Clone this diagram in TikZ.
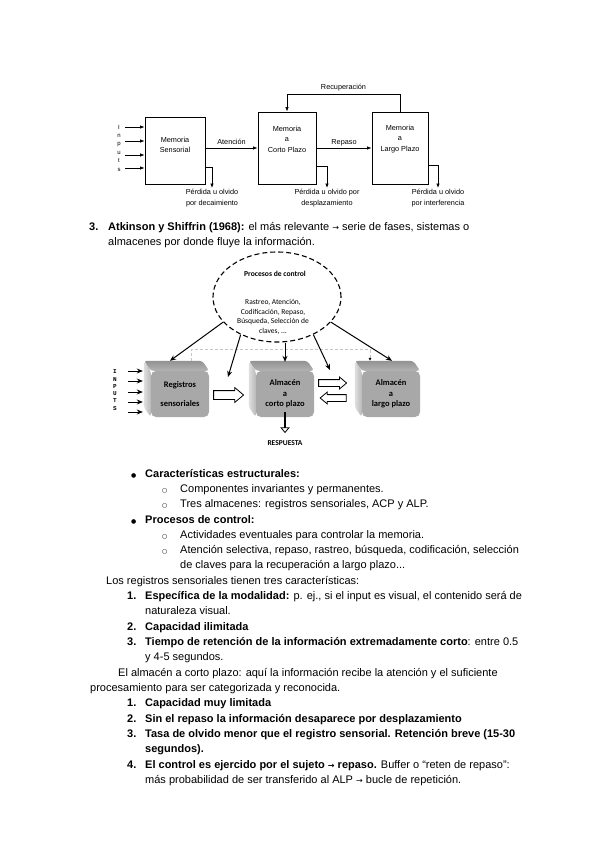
\documentclass[tikz,border=0pt]{standalone}
\usepackage{fontspec}
\setmainfont{Liberation Sans}
\newfontfamily\calfont{Carlito}
\newfontfamily\symfont{DejaVu Sans}
\newfontfamily\inpfont{Liberation Mono}
\usetikzlibrary{arrows,arrows.meta,calc,shapes.geometric,shapes.arrows,backgrounds,positioning}

\newcommand{\arr}{{\symfont\fontsize{8}{10}\selectfont →}}
\newcommand{\bul}{{\symfont\fontsize{6}{8}\selectfont ●}}
\newcommand{\cir}{{\symfont\fontsize{6}{8}\selectfont ○}}

\begin{document}
\begin{tikzpicture}[x=1pt,y=-1pt,
    txt/.style={anchor=base west,inner sep=0pt,font=\fontsize{11}{13}\selectfont},
    blk/.style={draw,line width=0.9pt,minimum width=58,minimum height=72,inner sep=0pt},
    lbl/.style={align=center,inner sep=1pt,font=\fontsize{7.3}{10.5}\selectfont},
    flow/.style={line width=0.7pt,-{Latex[length=4.5pt,width=3.5pt]}},
    store/.style={fill=gray!68,rounded corners=5pt,minimum width=58,minimum height=46,
        inner sep=0pt,align=center,font=\calfont\bfseries\fontsize{8.5}{10.5}\selectfont},
    ctrl/.style={line width=1pt,-{Stealth[length=6pt,width=5pt]}},
    hollow/.style={single arrow,draw,fill=white,line width=0.8pt,inner xsep=0pt,inner ysep=3pt,
        single arrow head extend=2.5pt,single arrow tip angle=80},
  ]
\begin{scope}[on background layer]
  \fill[white] (0,0) rectangle (600,848);
\end{scope}
\useasboundingbox (0,0) rectangle (600,848);

% memory model, boxes
\node[blk,minimum width=60,minimum height=67] (ms) at (175,150.5) {};
\node[blk] (mcp) at (287,148) {};
\node[blk,minimum width=56] (mlp) at (400,148) {};
\node[lbl] (mst) at (175,145) {Memoria\\Sensorial};
\node[lbl] (mcpt) at (287,139) {Memoria\\a\\Corto Plazo};
\node[lbl] (mlpt) at (400,139) {Memoria\\a\\Largo Plazo};

% inputs
\node[lbl,font=\fontsize{6}{8.4}\selectfont] (inp) at (119,148) {I\\n\\p\\u\\t\\s};
\foreach \y [count=\i] in {127,141,155,168}
  \coordinate (in\i) at (125,\y);
\foreach \i in {1,...,4}
  \draw[flow] (in\i) -- (in\i -| ms.west);

\draw[flow] (ms.east |- mcp.west) -- (mcp.west) node[midway,above=2pt,lbl] {Atención};
\draw[flow] (mcp.east) -- (mlp.west) node[midway,above=1pt,lbl] {Repaso};
\draw[flow] (mlp.north) -- ++(0,-17) -| (mcp.north) node[pos=0.25,above=2pt,lbl] {Recuperación};

% losses
\node[lbl,anchor=north] (dec) at (212,188) {Pérdida u olvido\\por decaimiento};
\node[lbl,anchor=north] (des) at (327,188) {Pérdida u olvido por\\desplazamiento};
\node[lbl,anchor=north] (itf) at (438,188) {Pérdida u olvido\\por interferencia};
\draw[flow] ([yshift=17pt]ms.south east) -| (dec.north);
\draw[flow] ([yshift=18pt]mcp.south east) -| (des.north);
\draw[flow] ([yshift=19pt]mlp.south east) -| (itf.north);

% heading
\node[txt] (n3) at (89,230) {\bfseries 3.};
\node[txt] (h1) at (108,230) {\textbf{Atkinson y Shiffrin (1968):} el más relevante \arr{} serie de fases, sistemas o};
\node[txt] (h2) at (108,245) {almacenes por donde fluye la información.};

% Atkinson-Shiffrin
\node[ellipse,draw,line width=1.1pt,dash pattern=on 5pt off 3pt,minimum width=128,minimum height=90] (pc) at (277,297) {};
\node[font=\calfont\bfseries\fontsize{7.6}{9}\selectfont] (pct) at (275,274) {Procesos de control};
\node[align=center,font=\calfont\fontsize{7.5}{9.6}\selectfont] (pcl) at (273,317) {Rastreo, Atención,\\Codificación, Repaso,\\Búsqueda, Selección de\\claves, ...};

\node[store] (rs) at (180,394) {Registros\\[9pt]sensoriales};
\node[store] (acp) at (285,394) {Almacén\\a\\corto plazo};
\node[store] (alp) at (391,394) {Almacén\\a\\largo plazo};
\begin{scope}[on background layer]
  \foreach \n in {rs,acp,alp}{
    \shade[top color=gray!85,bottom color=gray!60,rounded corners=3pt]
      ([shift={(-7pt,10pt)}]\n.north west) -- ([shift={(-7pt,10pt)}]\n.north east)
      -- (\n.north east) -- (\n.north west) -- cycle;
    \shade[left color=gray!25,right color=gray!55,rounded corners=3pt]
      ([shift={(-7pt,10pt)}]\n.north west) -- (\n.north west)
      -- (\n.south west) -- ([shift={(-7pt,10pt)}]\n.south west) -- cycle;
  }
\end{scope}

\node[align=center,inner sep=0pt,font=\inpfont\bfseries\fontsize{6}{7.3}\selectfont] (inp2) at (115,390) {I\\N\\P\\U\\T\\S};
\foreach \y [count=\i] in {371,381,392,402,412}
  \coordinate (ia\i) at (128,\y);
\foreach \i in {1,...,5}
  \draw[ctrl,shorten >=8pt] (ia\i) -- (ia\i -| rs.west);

\draw[gray!45,densely dashed,line width=0.8pt,-{Latex[length=3pt,width=3pt,black]}]
  ([xshift=11pt,yshift=10pt]rs.north) -- ++(0,-11) -| ([xshift=-21pt,yshift=10pt]alp.north);

\coordinate (f2) at (228,377);
\coordinate (f4) at (330,370);
\draw[ctrl] (pc.205) -- ([xshift=-10pt,yshift=10pt]rs.north);
\draw[ctrl] (pc.226) -- (f2);
\draw[ctrl] (pc.south -| acp.north) -- ([yshift=9pt]acp.north);
\draw[ctrl] (pc.314) -- (f4);
\draw[ctrl] (pc.335) -- ([xshift=1pt,yshift=10pt]alp.north);

\node[hollow,minimum height=30,inner ysep=4pt,single arrow head extend=3pt,right=4pt of rs,yshift=-1pt] (tr1) {};
\node[hollow,minimum height=28,anchor=west] (tr2) at ([xshift=4pt,yshift=11pt]acp.east) {};
\node[hollow,minimum height=26,shape border rotate=180] (tr3) at ([xshift=21pt,yshift=-4pt]acp.east) {};
\node[hollow,minimum height=20,inner ysep=3.5pt,single arrow head extend=3.5pt,shape border rotate=270] (tr4) at ([yshift=-5pt]acp.south) {};
\node[font=\calfont\bfseries\fontsize{7.5}{9}\selectfont,below=4pt of tr4] (resp) {RESPUESTA};

% lists
\node[txt] (b1) at (131,477) {\bul};
\node[txt] (t1) at (145,477) {\bfseries Características estructurales:};
\node[txt] (c1) at (162,492) {\cir};
\node[txt] (t2) at (180,492) {Componentes invariantes y permanentes.};
\node[txt] (c2) at (162,507) {\cir};
\node[txt] (t3) at (180,507) {Tres almacenes: registros sensoriales, ACP y ALP.};
\node[txt] (b2) at (131,523) {\bul};
\node[txt] (t4) at (145,523) {\bfseries Procesos de control:};
\node[txt] (c3) at (162,538) {\cir};
\node[txt] (t5) at (180,538) {Actividades eventuales para controlar la memoria.};
\node[txt] (c4) at (162,553) {\cir};
\node[txt] (t6) at (180,553) {Atención selectiva, repaso, rastreo, búsqueda, codificación, selección};
\node[txt] (t7) at (180,568) {de claves para la recuperación a largo plazo...};

\node[txt] (p1) at (106,584) {Los registros sensoriales tienen tres características:};
\node[txt] (k1) at (127,599) {\bfseries 1.};
\node[txt] (r1) at (145,599) {\textbf{Específica de la modalidad:} p. ej., si el input es visual, el contenido será de};
\node[txt] (r1b) at (145,614) {naturaleza visual.};
\node[txt] (k2) at (127,630) {\bfseries 2.};
\node[txt] (r2) at (145,630) {\bfseries Capacidad ilimitada};
\node[txt] (k3) at (127,645) {\bfseries 3.};
\node[txt] (r3) at (145,645) {\textbf{Tiempo de retención de la información extremadamente corto}: entre 0.5};
\node[txt] (r3b) at (145,660) {y 4-5 segundos.};

\node[txt] (p2) at (118,676) {El almacén a corto plazo: aquí la información recibe la atención y el suficiente};
\node[txt] (p2b) at (90,691) {procesamiento para ser categorizada y reconocida.};
\node[txt] (m1) at (127,706) {\bfseries 1.};
\node[txt] (s1) at (145,706) {\bfseries Capacidad muy limitada};
\node[txt] (m2) at (127,722) {\bfseries 2.};
\node[txt] (s2) at (145,722) {\bfseries Sin el repaso la información desaparece por desplazamiento};
\node[txt] (m3) at (127,737) {\bfseries 3.};
\node[txt] (s3) at (145,737) {\bfseries Tasa de olvido menor que el registro sensorial. Retención breve (15-30};
\node[txt] (s3b) at (145,752) {\bfseries segundos).};
\node[txt] (m4) at (127,768) {\bfseries 4.};
\node[txt] (s4) at (145,768) {\textbf{El control es ejercido por el sujeto \arr{} repaso.} Buffer o “reten de repaso”:};
\node[txt] (s4b) at (145,783) {más probabilidad de ser transferido al ALP \arr{} bucle de repetición.};
\end{tikzpicture}
\end{document}
